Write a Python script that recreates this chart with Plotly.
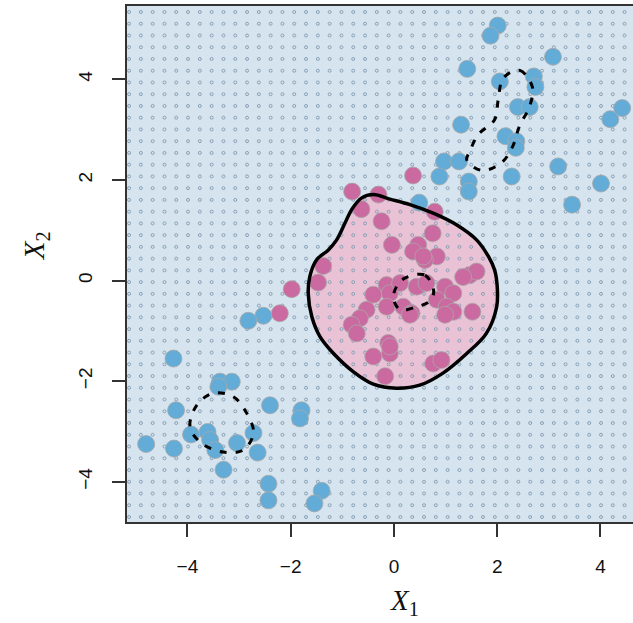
import numpy as np
import plotly.graph_objects as go

# ---- data ----
blue_x = [2.01, 1.87, 3.08, 1.42, 2.05, 2.71, 2.74, 4.42, 4.19, 2.40, 2.63, 1.30, 2.16, 2.37, 2.36,
          0.97, 1.26, 0.88, 2.28, 3.18, 1.45, 1.45, 4.01, 3.45, 0.49,
          -2.53, -2.82, -4.27, -3.37, -3.14, -3.40, -2.40, -4.22, -1.79, -1.82, -2.72, -3.93,
          -3.61, -3.56, -3.46, -3.04, -2.64, -4.80, -4.26, -3.30, -2.43, -2.43, -1.40, -1.54]
blue_y = [5.07, 4.87, 4.45, 4.21, 3.96, 4.06, 3.85, 3.43, 3.21, 3.45, 3.45, 3.10, 2.87, 2.77, 2.64,
          2.37, 2.37, 2.07, 2.07, 2.27, 1.97, 1.77, 1.93, 1.51, 1.55,
          -0.70, -0.80, -1.55, -2.01, -2.01, -2.11, -2.48, -2.58, -2.58, -2.74, -3.03, -3.06,
          -3.01, -3.17, -3.37, -3.23, -3.42, -3.25, -3.34, -3.76, -4.04, -4.37, -4.18, -4.43]

pink_x = [0.37, -0.81, -0.30, -0.63, 0.79, -0.24, 0.75, -0.04, 0.47, 0.83, 0.60, 0.37, -1.37, 1.47,
          1.60, 1.34, -1.47, -1.98, -2.21, -0.14, -0.40, -0.08, 0.12, 0.44, 0.63, 0.99, 1.15, -0.14,
          0.18, 0.34, 0.83, 1.02, 1.15, 1.52, -0.53, -0.66, -0.82, -0.72, -0.11, -0.08, -0.40, 0.76,
          0.92, -0.17, 0.99, 0.31, -0.08, 0.57]
pink_y = [2.09, 1.77, 1.71, 1.42, 1.37, 1.18, 0.94, 0.71, 0.71, 0.48, 0.41, 0.58, 0.29, 0.11,
          0.18, 0.07, -0.04, -0.17, -0.65, -0.09, -0.28, -0.25, -0.05, -0.12, -0.05, -0.12, -0.25, -0.52,
          -0.52, -0.65, -0.38, -0.52, -0.62, -0.62, -0.58, -0.75, -0.88, -1.05, -1.24, -1.45, -1.51, -1.65,
          -1.58, -1.90, -0.68, -0.68, -1.31, 0.48]

# decision boundary (solid)
bound_x = [-0.08, -0.40, -0.63, -0.82, -0.95, -1.11, -1.27, -1.50, -1.63, -1.66, -1.59, -1.43, -1.17,
           -0.79, -0.40, 0.05, 0.50, 0.95, 1.41, 1.79, 1.99, 2.00, 1.95, 1.83, 1.60, 1.21, 0.76, 0.31, -0.08]
bound_y = [1.62, 1.71, 1.64, 1.41, 1.14, 0.81, 0.61, 0.41, 0.08, -0.25, -0.72, -1.12, -1.45,
           -1.81, -2.06, -2.14, -2.08, -1.84, -1.45, -1.05, -0.52, -0.12, 0.21, 0.48, 0.81, 1.11, 1.34, 1.51, 1.62]

# margins (dashed)
m_center_x = [0.21, 0.60, 0.77, 0.68, 0.44, 0.12, -0.01, 0.05, 0.21]
m_center_y = [0.05, 0.11, -0.22, -0.42, -0.52, -0.58, -0.35, -0.12, 0.05]
m_ur_x = [2.12, 2.44, 2.68, 2.63, 2.43, 2.30, 2.08, 1.70, 1.41, 1.47, 1.63, 1.95, 2.02, 2.12]
m_ur_y = [4.03, 4.18, 3.85, 3.47, 3.07, 2.67, 2.34, 2.19, 2.40, 2.57, 2.90, 3.20, 3.60, 4.03]
m_ll_x = [-3.50, -3.11, -2.85, -2.72, -2.92, -3.30, -3.72, -3.95, -3.82, -3.50]
m_ll_y = [-2.24, -2.31, -2.64, -3.03, -3.37, -3.41, -3.24, -2.91, -2.48, -2.24]

x_ticks = [-4, -2, 0, 2, 4]
y_ticks = [-4, -2, 0, 2, 4]
x_tick_labels = ["\u22124", "\u22122", "0", "2", "4"]
y_tick_labels = ["\u22124", "\u22122", "0", "2", "4"]

# prediction grid (background texture)
GRID_X0, GRID_DX, GRID_NX = -5.13, 0.2285, 44
GRID_Y0, GRID_DY, GRID_NY = -4.70, 0.2335, 44
gx, gy = np.meshgrid(GRID_X0 + GRID_DX * np.arange(GRID_NX), GRID_Y0 + GRID_DY * np.arange(GRID_NY))

BG_BLUE = "#d5e4ee"
PINK_FILL = "#eac2d6"
PT_BLUE = "#62acd7"
PT_PINK = "#cb6aa0"

fig = go.Figure()
fig.add_trace(go.Scatter(x=bound_x, y=bound_y, mode="lines", fill="toself", fillcolor=PINK_FILL,
                         line=dict(color="rgba(0,0,0,0)", shape="spline", smoothing=1.0), hoverinfo="skip"))
fig.add_trace(go.Scatter(x=gx.ravel(), y=gy.ravel(), mode="markers",
                         marker=dict(symbol="circle-open", size=3, color="#8aa1b6", line=dict(width=1)),
                         hoverinfo="skip"))
fig.add_trace(go.Scatter(x=blue_x, y=blue_y, mode="markers",
                         marker=dict(size=17, color=PT_BLUE, line=dict(color="#a8a8a8", width=0.8))))
fig.add_trace(go.Scatter(x=pink_x, y=pink_y, mode="markers",
                         marker=dict(size=17, color=PT_PINK, line=dict(color="#a8a8a8", width=0.8))))
fig.add_trace(go.Scatter(x=bound_x, y=bound_y, mode="lines",
                         line=dict(color="black", width=3.5, shape="spline", smoothing=1.0)))
for mx, my in [(m_center_x, m_center_y), (m_ur_x, m_ur_y), (m_ll_x, m_ll_y)]:
    fig.add_trace(go.Scatter(x=mx, y=my, mode="lines",
                             line=dict(color="black", width=3, dash="7px,9px", shape="spline", smoothing=1.0)))

tickfont = dict(family="Liberation Sans, Arial, sans-serif", size=19, color="#111")
titlefont = dict(family="Liberation Serif, Times New Roman, serif", size=29, color="#111")
fig.update_layout(
    width=633, height=623, showlegend=False,
    paper_bgcolor="white", plot_bgcolor=BG_BLUE,
    margin=dict(l=127, r=0, t=6, b=101),
    xaxis=dict(range=[-5.17, 4.63], showgrid=False, zeroline=False, showline=True, linecolor="#333",
               linewidth=1.5, mirror=True, ticks="outside", ticklen=13, tickwidth=1.5, tickcolor="#333",
               tickvals=x_ticks, ticktext=x_tick_labels, tickfont=tickfont, ticklabelstandoff=13),
    yaxis=dict(range=[-4.80, 5.46], showgrid=False, zeroline=False, showline=True, linecolor="#333",
               linewidth=1.5, ticks="outside", ticklen=13, tickwidth=1.5, tickcolor="#333",
               tickvals=y_ticks, ticktext=y_tick_labels, tickfont=tickfont, tickangle=-90,
               ticklabelstandoff=13),
    annotations=[
        dict(text="<i>X</i><sub>1</sub>", xref="x", x=0.2, yref="paper", y=-0.155, yanchor="middle",
             showarrow=False, font=titlefont),
        dict(text="<i>X</i><sub>2</sub>", xref="paper", x=-0.18, yref="y", y=0.7, xanchor="center",
             textangle=-90, showarrow=False, font=titlefont),
    ],
)
fig.write_html("out.html")
